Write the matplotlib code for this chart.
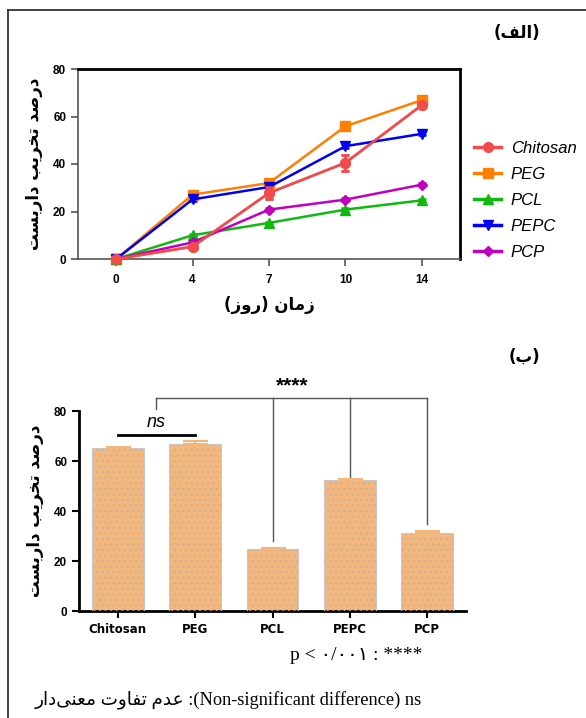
import matplotlib
matplotlib.use("Agg")
import matplotlib.pyplot as plt
from matplotlib.lines import Line2D

# ---- data ----
days = ["0", "4", "7", "10", "14"]
chitosan = [0, 5.2, 27.8, 40.5, 64.8]
peg = [0, 27.1, 32.0, 55.9, 66.9]
pcl = [0, 10.0, 15.2, 20.8, 24.7]
pepc = [0, 25.1, 30.3, 47.5, 52.7]
pcp = [0, 7.0, 20.8, 25.0, 31.3]
chitosan_err = [0, 0.5, 2.7, 3.5, 0.5]
peg_err = [0, 0.5, 0.6, 0.6, 0.6]
pcl_err = [0, 0.5, 0.5, 0.5, 0.5]
pepc_err = [0, 0.5, 1.0, 0.8, 0.6]
pcp_err = [0, 0.5, 0.5, 0.5, 0.5]

groups = ["Chitosan", "PEG", "PCL", "PEPC", "PCP"]
day14_mean = [65.1, 66.7, 24.9, 52.4, 31.2]
day14_sd = [0.4, 1.2, 0.5, 0.4, 0.7]

# significance brackets (value levels)
ns_level = 70.4
star_level = 85.3
star_drops = [80.8, 28.0, 53.7, 34.8]   # ends at 0.5, PCL, PEPC, PCP

# ---- tiny persian shaper (matplotlib has no bidi/shaping) ----
FORMS = {
    "ا": ("\uFE8D", "\uFE8E", None, None),
    "ب": ("\uFE8F", "\uFE90", "\uFE91", "\uFE92"),
    "ت": ("\uFE95", "\uFE96", "\uFE97", "\uFE98"),
    "خ": ("\uFEA5", "\uFEA6", "\uFEA7", "\uFEA8"),
    "د": ("\uFEA9", "\uFEAA", None, None),
    "ر": ("\uFEAD", "\uFEAE", None, None),
    "ز": ("\uFEAF", "\uFEB0", None, None),
    "س": ("\uFEB1", "\uFEB2", "\uFEB3", "\uFEB4"),
    "ص": ("\uFEB9", "\uFEBA", "\uFEBB", "\uFEBC"),
    "ع": ("\uFEC9", "\uFECA", "\uFECB", "\uFECC"),
    "ف": ("\uFED1", "\uFED2", "\uFED3", "\uFED4"),
    "ل": ("\uFEDD", "\uFEDE", "\uFEDF", "\uFEE0"),
    "م": ("\uFEE1", "\uFEE2", "\uFEE3", "\uFEE4"),
    "ن": ("\uFEE5", "\uFEE6", "\uFEE7", "\uFEE8"),
    "و": ("\uFEED", "\uFEEE", None, None),
    "ی": ("\uFEEF", "\uFEF0", "\uFEF3", "\uFEF4"),
}


def fa(text):
    out = []
    for i, ch in enumerate(text):
        f = FORMS.get(ch)
        if f is None:
            if ch != "\u200c":
                out.append({"(": ")", ")": "("}.get(ch, ch))
            continue
        prev = text[i - 1] if i > 0 else None
        nxt = text[i + 1] if i < len(text) - 1 else None
        jp = prev in FORMS and FORMS[prev][2] is not None
        jn = nxt in FORMS and f[2] is not None
        if jp and jn:
            out.append(f[3])
        elif jp:
            out.append(f[1])
        elif jn:
            out.append(f[2])
        else:
            out.append(f[0])
    return "".join(reversed(out))


ylab = fa("درصد تخریب داربست")
xlab = fa("زمان (روز)")
title_a = fa("(الف)")
title_b = fa("(ب)")

plt.rcParams["font.family"] = ["Liberation Sans", "DejaVu Sans"]
plt.rcParams["hatch.linewidth"] = 0.6
W, H = 586, 718
fig = plt.figure(figsize=(W / 100, H / 100), dpi=100)

# outer frame (left and top lines)
fig.add_artist(Line2D([8 / W, 8 / W], [0, 1 - 10 / H], color="#333333", lw=1.3))
fig.add_artist(Line2D([8 / W, 1], [1 - 10 / H, 1 - 10 / H], color="#333333", lw=1.3))

arfont = ["DejaVu Sans"]

# ---------------- (الف) line chart ----------------
ax1 = fig.add_axes([78 / W, 1 - 259 / H, 382 / W, 190 / H])
x = list(range(len(days)))
series = [
    ("Chitosan", chitosan, chitosan_err, "#F24B4B", "o", 7),
    ("PEG", peg, peg_err, "#FF8000", "s", 7),
    ("PCL", pcl, pcl_err, "#10B810", "^", 7),
    ("PEPC", pepc, pepc_err, "#0000F5", "v", 7),
    ("PCP", pcp, pcp_err, "#C000C0", "D", 5),
]
handles = []
for name, vals, err, col, mk, ms in series:
    ax1.errorbar(x, vals, yerr=err, color=col, marker=mk, ms=ms, lw=1.8,
                 capsize=3, capthick=1.8, elinewidth=1.8, clip_on=False, zorder=3)
    handles.append(Line2D([], [], color=col, marker=mk, ms=ms, lw=2.5, label=name))
# redraw chitosan on top like the reference
ax1.errorbar(x, chitosan, yerr=chitosan_err, color="#F24B4B", marker="o", ms=7, lw=1.8,
             capsize=3, capthick=1.8, elinewidth=1.8, clip_on=False, zorder=4)

ax1.set_xlim(-0.5, 4.5)
ax1.set_ylim(0, 80)
ax1.set_yticks([0, 20, 40, 60, 80])
ax1.set_xticks(x)
ax1.set_xticklabels(days)
for s in ["top", "right"]:
    ax1.spines[s].set_linewidth(2)
    ax1.spines[s].set_color("black")
for s in ["left", "bottom"]:
    ax1.spines[s].set_linewidth(1.2)
    ax1.spines[s].set_color("#555555")
ax1.tick_params(direction="out", length=5, width=1.2, colors="#555555", labelcolor="black",
                labelsize=8.5)
ax1.tick_params(axis="x", pad=6)
for lab in ax1.get_xticklabels() + ax1.get_yticklabels():
    lab.set_fontweight("bold")
ax1.set_ylabel(ylab, fontsize=12, fontweight="bold", family=arfont, labelpad=7)
ax1.set_xlabel(xlab, fontsize=12, fontweight="bold", family=arfont, labelpad=7)
leg = ax1.legend(handles=handles, loc="upper left", bbox_to_anchor=(1.02, 0.655),
                 frameon=False, handlelength=1.6, handletextpad=0.6, labelspacing=0.66,
                 borderaxespad=0, prop={"size": 12, "style": "italic"})
fig.text(540 / W, 1 - 33 / H, title_a, fontsize=12, fontweight="bold", family=arfont,
         ha="right", va="center")

# ---------------- (ب) bar chart ----------------
ax2 = fig.add_axes([79 / W, 1 - 611 / H, 387 / W, 200 / H])
xb = list(range(len(groups)))
ax2.bar(xb, day14_mean, width=0.67, color="#F3B67D", edgecolor="none", zorder=2)
ax2.bar(xb, day14_mean, width=0.67, facecolor="none", edgecolor="#C0B0A0", hatch="...",
        lw=0, zorder=3)
ax2.bar(xb, day14_mean, width=0.67, facecolor="none", edgecolor="#C8C8C8", lw=0.8, zorder=3)
ax2.errorbar(xb, day14_mean, yerr=[[0] * 5, day14_sd], fmt="none", ecolor="#F3B67D",
             capsize=9, capthick=1.5, elinewidth=1.5, zorder=4)
ax2.set_xlim(-0.5, 4.5)
ax2.set_ylim(0, 80)
ax2.set_yticks([0, 20, 40, 60, 80])
ax2.set_xticks(xb)
ax2.set_xticklabels(groups)
for s in ["top", "right"]:
    ax2.spines[s].set_visible(False)
for s in ["left", "bottom"]:
    ax2.spines[s].set_linewidth(2)
ax2.tick_params(direction="out", length=5, width=1.5, labelsize=8.5)
ax2.tick_params(axis="x", pad=3.5)
for lab in ax2.get_yticklabels():
    lab.set_fontweight("bold")
for lab in ax2.get_xticklabels():
    lab.set_fontweight("bold")
    lab.set_family("DejaVu Sans")
ax2.set_ylabel(ylab, fontsize=12, fontweight="bold", family=arfont, labelpad=7)

# ns bracket
ax2.plot([0, 1], [ns_level, ns_level], color="black", lw=2, clip_on=False)
ax2.text(0.5, ns_level + 1.5, "ns", fontsize=13, style="italic", ha="center", va="bottom")
# **** bracket
gc = "#555555"
ax2.plot([0.5, 4], [star_level, star_level], color=gc, lw=1, clip_on=False)
for xp, yd in zip([0.5, 2, 3, 4], star_drops):
    ax2.plot([xp, xp], [star_level, yd], color=gc, lw=1, clip_on=False)
ax2.text(2.25, star_level + 1.0, "****", fontsize=15, fontweight="bold", ha="center",
         va="bottom")
fig.text(540 / W, 1 - 357 / H, title_b, fontsize=12, fontweight="bold", family=arfont,
         ha="right", va="center")

# footnotes
fig.text(422 / W, 1 - 655 / H, "p < \u06f0/\u06f0\u06f0\u06f1 : ****", fontsize=14,
         family=["Liberation Serif", "DejaVu Sans"], ha="right", va="center")
fig.text(422 / W, 1 - 700 / H, fa("عدم تفاوت معنی\u200cدار") + " :(Non-significant difference) ns",
         fontsize=13.2, family=["Liberation Serif", "DejaVu Sans"], ha="right", va="center")

fig.savefig("out.png", dpi=100)
